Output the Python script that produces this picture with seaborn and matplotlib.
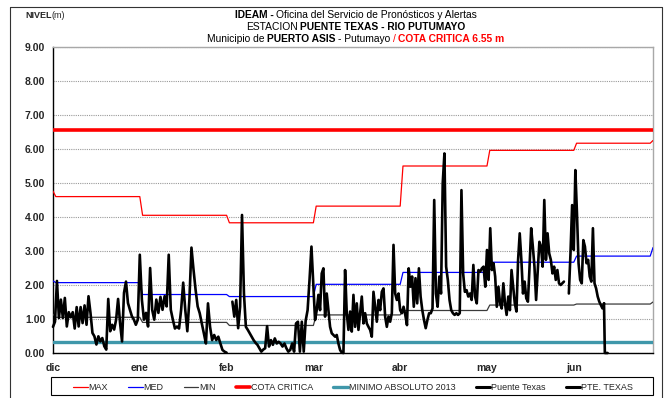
import numpy as np
import pandas as pd
import matplotlib
matplotlib.use("Agg")
import matplotlib.pyplot as plt
import seaborn as sns
from matplotlib.lines import Line2D
from matplotlib.patches import Rectangle

# ---------------------------------------------------------------- data
MESES = ["dic", "ene", "feb", "mar", "abr", "may", "jun"]
DIAS_MES = 31                      # each month occupies 31 slots on the axis
FIN_EJE = 214.3                    # last slot shown (jun incomplete)

# Readings at Puente Texas (m), month by month
NIVEL_DIC = [0.77, 0.92, 2.12, 1.03, 1.57, 1.03, 1.62, 0.78, 1.20, 1.05, 1.20, 0.72,
             1.35, 0.78, 1.35, 0.88, 1.40, 0.83, 1.67, 1.18, 0.59, 0.49, 0.25, 0.49,
             0.34, 0.44, 0.20, 0.10, 1.59, 0.64, 0.83, 0.69, 0.98, 1.59, 0.88, 0.34,
             1.77, 2.10, 1.47, 1.27, 1.08, 0.98, 0.83, 0.98]
NIVEL_ENE = [2.89, 1.57, 0.98, 1.18, 0.78, 2.50, 1.27, 0.98, 1.57, 1.18, 1.65, 1.27,
             1.67, 1.37, 2.89, 1.27, 0.98, 0.72, 0.78, 0.72, 1.27, 2.07, 1.27, 0.64,
             1.57, 3.10, 2.45, 1.86, 1.37, 1.17, 0.87, 0.58, 0.28, 1.46, 0.77, 0.38,
             0.53, 0.38, 0.48, 0.28, 0.09, 0.04]
NIVEL_FEB = [0.01, np.nan, np.nan, 1.51, 1.07, 1.56, 0.73, 1.36, 4.06, 1.75, 0.77, 0.68,
             0.58, 0.48, 0.38, 0.30, 0.24, 0.14, 0.04, 0.10, 0.14, 0.79, 0.19, 0.38,
             0.24, 0.43, 0.28, 0.33, 0.28, 0.19, 0.28, 0.14, 0.04, 0.09, 0.28, 0.04,
             0.87, 0.92, 0.04, 0.92, 0.04, 0.95, 1.26, 2.15, 3.13]
NIVEL_MAR = [1.95, 0.97, 1.26, 1.71, 1.26, 2.34, 2.49, 1.07, 1.75, 1.26, 0.77, 0.58,
             0.53, 0.48, 0.53, 0.28, 0.09, 0.01, 0.00, 2.44, 1.17, 0.68, 1.22, 0.63,
             1.71, 0.77, 1.46, 0.68, 1.17, 1.66, 0.87, 1.17, 0.87, 0.77, 0.68, 0.48,
             1.80, 1.36, 0.92, 1.56, 1.26, 1.80, 1.90, 1.07, 0.77, 1.07, 0.92, 1.17,
             3.18, 1.75, 1.56, 1.75]
NIVEL_ABR = [1.26, 1.17, 1.36, 1.12, 0.82, 2.49, 1.95, 2.25, 1.36, 2.20, 1.46, 2.49,
             1.66, 1.26, 0.97, 0.73, 0.97, 1.17, 1.17, 1.31, 4.50, 1.75, 1.36, 2.25,
             1.75, 4.99, 5.87, 2.54, 2.15, 1.56, 1.26, 1.17, 1.12, 1.17, 1.12, 1.17,
             4.79, 2.34, 1.80, 1.85, 1.66, 1.75, 1.56, 2.59, 1.66, 1.46, 2.44, 2.39,
             2.49, 2.54, 1.95]
NIVEL_MAY = [3.03, 2.15, 3.67, 2.44, 2.64, 2.25, 1.36, 1.95, 1.46, 1.31, 2.05, 1.46,
             1.12, 1.66, 1.26, 2.44, 1.95, 1.46, 1.22, 2.74, 3.52, 2.74, 1.75, 2.10,
             1.61, 1.51, 2.54, 3.67, 3.13, 2.54, 1.56, 2.44, 3.27, 3.13, 2.54, 4.50,
             2.74, 3.52, 2.93, 2.74, 2.34, 2.54, 2.15, 2.44, 2.05, 2.00, 2.05, 2.10,
             np.nan, np.nan, 1.75, 2.93, 4.35]
NIVEL_JUN = [3.03, 5.38, 4.11, 2.64, 2.15, 2.05, 3.32, 3.13, 2.64, 2.74, 2.25, 2.10,
             3.67, 2.05, 1.90, 1.66, 1.51, 1.41, 1.31, 1.46]
DIAS_CUBIERTOS = [31, 31, 31, 31, 31, 31, 11.4]

# PTE. TEXAS tail (day of june, level)
PTE_DIA_JUN = [10.8, 11.1, 12.1]
PTE_NIVEL = [1.46, 0.00, 0.00]

# Monthly reference levels (m)
MAX_MES = [4.60, 4.05, 3.83, 4.32, 5.50, 5.96, 6.17]
MED_MES = [2.07, 1.72, 1.66, 2.02, 2.37, 2.67, 2.85]
MIN_MES = [1.05, 0.90, 0.81, 1.12, 1.25, 1.41, 1.44]
MAX_EXTREMOS = [4.76, 6.25]
MED_EXTREMOS = [2.12, 3.10]
MIN_EXTREMOS = [1.14, 1.50]
COTA_CRITICA = 6.55
MINIMO_2013 = 0.31

# ---------------------------------------------------------------- frames
meses_nivel = [NIVEL_DIC, NIVEL_ENE, NIVEL_FEB, NIVEL_MAR, NIVEL_ABR, NIVEL_MAY, NIVEL_JUN]
filas = []
for m, (vals, cub) in enumerate(zip(meses_nivel, DIAS_CUBIERTOS)):
    n = len(vals)
    for i, v in enumerate(vals):
        filas.append((m * DIAS_MES + cub * i / n, v))
serie = pd.DataFrame(filas, columns=["dia", "nivel"])
serie["tramo"] = serie["nivel"].isna().cumsum()
serie = serie.dropna()

pte = pd.DataFrame({"dia": [6 * DIAS_MES + d for d in PTE_DIA_JUN], "nivel": PTE_NIVEL})


def escalonada(mensual, extremos):
    xs, ys = [0.0], [extremos[0]]
    for m, v in enumerate(mensual):
        ini = m * DIAS_MES + 1
        fin = (m + 1) * DIAS_MES if m < len(mensual) - 1 else FIN_EJE - 1
        xs += [ini, fin]
        ys += [v, v]
    xs.append(FIN_EJE)
    ys.append(extremos[1])
    return pd.DataFrame({"dia": xs, "nivel": ys})


# ---------------------------------------------------------------- figure
sns.set_style("white")
plt.rcParams["font.family"] = ["Liberation Sans", "DejaVu Sans"]

W, H = 665, 398
fig = plt.figure(figsize=(W / 100, H / 100), dpi=100)
ax = fig.add_axes([53 / W, 45 / H, 600 / W, 306 / H])

C_MAX, C_MED, C_MIN = "#ff0000", "#0000ff", "#3a3a3a"
C_COTA, C_MINABS, C_PT = "#ff0000", "#3f97aa", "#000000"

sns.lineplot(data=escalonada(MAX_MES, MAX_EXTREMOS), x="dia", y="nivel", ax=ax,
             color=C_MAX, lw=0.9, sort=False, zorder=3)
sns.lineplot(data=escalonada(MED_MES, MED_EXTREMOS), x="dia", y="nivel", ax=ax,
             color=C_MED, lw=0.9, sort=False, zorder=3)
sns.lineplot(data=escalonada(MIN_MES, MIN_EXTREMOS), x="dia", y="nivel", ax=ax,
             color=C_MIN, lw=0.9, sort=False, zorder=3)
ax.axhline(COTA_CRITICA, color=C_COTA, lw=2.6, zorder=3)
ax.axhline(MINIMO_2013, color=C_MINABS, lw=2.4, zorder=3)

sns.lineplot(data=serie, x="dia", y="nivel", units="tramo", estimator=None, ax=ax,
             color=C_PT, lw=1.9, zorder=5, clip_on=False)
sns.lineplot(data=pte, x="dia", y="nivel", ax=ax, color=C_PT, lw=1.9, zorder=5,
             clip_on=False)
if ax.get_legend() is not None:
    ax.get_legend().remove()

# axes styling
ax.set_xlim(0, FIN_EJE)
ax.set_ylim(0, 9)
ax.set_yticks(np.arange(0, 10))
ax.set_yticklabels([f"{v:.2f}" for v in range(10)], fontsize=7.5, fontweight="bold")
ax.set_xticks([m * DIAS_MES for m in range(len(MESES))])
ax.set_xticklabels(MESES, fontsize=7.5, fontweight="bold")
ax.set_xlabel("")
ax.set_ylabel("")
ax.yaxis.grid(True, linestyle=(0, (1, 1)), color="#9a9a9a", lw=0.8, zorder=0)
ax.xaxis.grid(False)
ax.set_axisbelow(True)
ax.tick_params(axis="y", direction="out", length=3.5, width=0.8, pad=2, color="black")
ax.tick_params(axis="x", direction="out", length=2.5, width=0.8, pad=5, color="#555555")
for s in ("left", "bottom"):
    ax.spines[s].set_color("black")
    ax.spines[s].set_linewidth(1.0)
for s in ("top", "right"):
    ax.spines[s].set_color("#a8a8a8")
    ax.spines[s].set_linewidth(1.0)

# ---------------------------------------------------------------- titles
fig.canvas.draw()
rend = fig.canvas.get_renderer()


def texto_mixto(partes, xc, y, size):
    objs = []
    for txt, peso, color, gap in partes:
        t = fig.text(0, y, txt, fontsize=size, fontweight=peso, color=color,
                     ha="left", va="center")
        objs.append((t, gap * size * 100 / 72))
    anchos = [t.get_window_extent(rend).width for t, _ in objs]
    total = sum(anchos) + sum(g for _, g in objs[1:])
    x = xc * W - total / 2
    for i, (t, g) in enumerate(objs):
        if i > 0:
            x += g
        t.set_x(x / W)
        x += anchos[i]


TS = 7.4
texto_mixto([("IDEAM -", "bold", "black", 0),
             ("Oficina del Servicio de Pronósticos y Alertas", "normal", "black", 0.25)],
            0.535, 1 - 15 / H, TS)
texto_mixto([("ESTACION", "normal", "black", 0),
             ("PUENTE TEXAS - RIO PUTUMAYO", "bold", "black", 0.15)],
            0.535, 1 - 27 / H, TS)
texto_mixto([("Municipio de", "normal", "black", 0),
             ("PUERTO ASIS", "bold", "black", 0.25),
             ("- Putumayo", "normal", "black", 0.25),
             ("/", "normal", "#ff0000", 0.25),
             ("COTA CRITICA 6.55 m", "bold", "#ff0000", 0.25)],
            0.535, 1 - 39 / H, TS)

fig.text(25 / W, 1 - 16 / H, "NIVEL", fontsize=6.5, fontweight="bold", va="center", ha="left")
fig.text(51 / W, 1 - 16 / H, "(m)", fontsize=6.5, va="center", ha="left")

# ---------------------------------------------------------------- legend
handles = [
    Line2D([], [], color=C_MAX, lw=0.9),
    Line2D([], [], color=C_MED, lw=0.9),
    Line2D([], [], color=C_MIN, lw=0.9),
    Line2D([], [], color=C_COTA, lw=2.6),
    Line2D([], [], color=C_MINABS, lw=2.4),
    Line2D([], [], color=C_PT, lw=2.2),
    Line2D([], [], color=C_PT, lw=2.2),
]
labels = ["MAX", "MED", "MIN", "COTA CRITICA", "MINIMO ABSOLUTO 2013",
          "Puente Texas", "PTE. TEXAS"]
leg = fig.legend(handles, labels, ncol=7, loc="lower left",
                 bbox_to_anchor=(70 / W, 1 - 395 / H, 566 / W, 18 / H),
                 mode="expand", frameon=False, fontsize=6.5,
                 handlelength=1.6, handletextpad=0.1, borderaxespad=0,
                 borderpad=0.35, columnspacing=1.0)
fig.add_artist(Rectangle((51 / W, 1 - 395 / H), 602 / W, 18 / H,
                         transform=fig.transFigure, fill=False,
                         edgecolor="black", lw=0.8))

# outer frame of the chart
for xs, ys in (([10 / W, 10 / W], [0, 1 - 7 / H]),
               ([10 / W, 662 / W], [1 - 7 / H, 1 - 7 / H]),
               ([662 / W, 662 / W], [0, 1 - 7 / H])):
    fig.add_artist(Line2D(xs, ys, transform=fig.transFigure, color="#333333", lw=0.8))

fig.savefig("out.png", dpi=100)
